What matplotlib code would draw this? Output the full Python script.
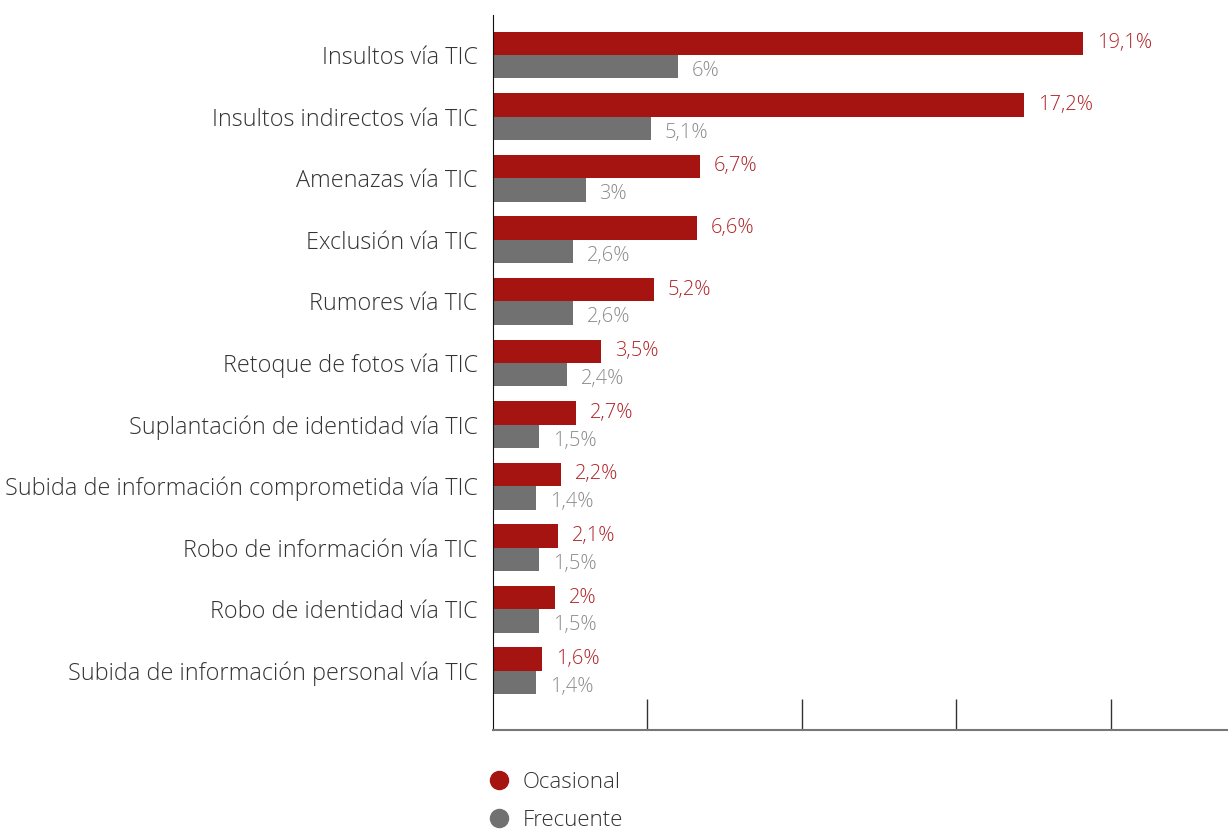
import matplotlib
matplotlib.use("Agg")
import matplotlib.pyplot as plt
from matplotlib.lines import Line2D

plt.rcParams['font.family'] = ['Open Sans', 'DejaVu Sans']
plt.rcParams['font.weight'] = 'light'

# datos
categorias = [
    "Insultos vía TIC",
    "Insultos indirectos vía TIC",
    "Amenazas vía TIC",
    "Exclusión vía TIC",
    "Rumores vía TIC",
    "Retoque de fotos vía TIC",
    "Suplantación de identidad vía TIC",
    "Subida de información comprometida vía TIC",
    "Robo de información vía TIC",
    "Robo de identidad vía TIC",
    "Subida de información personal vía TIC",
]
ocasional = [19.1, 17.2, 6.7, 6.6, 5.2, 3.5, 2.7, 2.2, 2.1, 2.0, 1.6]
frecuente = [6.0, 5.1, 3.0, 2.6, 2.6, 2.4, 1.5, 1.4, 1.5, 1.5, 1.4]
series = ["Ocasional", "Frecuente"]

rojo = "#A51410"
gris = "#717171"


def etiqueta(v):
    s = f"{v:.1f}".replace(".", ",")
    if s.endswith(",0"):
        s = s[:-2]
    return s + "%"


fig = plt.figure(figsize=(12.28, 8.30), dpi=100)
ax = fig.add_axes([493 / 1228, 1 - 730 / 830, 1 - 493 / 1228, (730 - 15) / 830])

alto = 0.38
pos = list(range(len(categorias)))
ax.barh([p - alto / 2 for p in pos], ocasional, height=alto, color=rojo)
ax.barh([p + alto / 2 for p in pos], frecuente, height=alto, color=gris)

for p, vo, vf in zip(pos, ocasional, frecuente):
    ax.text(vo + 0.45, p - alto / 2, etiqueta(vo), va="center", ha="left",
            fontsize=14.5, color="#B0262A")
    ax.text(vf + 0.45, p + alto / 2 + 0.07, etiqueta(vf), va="center", ha="left",
            fontsize=14.5, color="#8C8C8C")

ax.set_yticks(pos)
ax.set_yticklabels(categorias, fontsize=16.8, color="#333333")
ax.set_ylim(10.96, -0.65)
ax.set_xlim(0, 23.8)
ax.set_xticks([5, 10, 15, 20])
ax.set_xticklabels([])
ax.tick_params(axis="y", length=0, pad=11)
ax.tick_params(axis="x", direction="in", length=22, width=1, color="#333333")

for s in ["top", "right"]:
    ax.spines[s].set_visible(False)
ax.spines["left"].set_color("#111111")
ax.spines["bottom"].set_color("#777777")
ax.spines["bottom"].set_linewidth(1.5)

handles = [
    Line2D([], [], marker="o", linestyle="", markersize=13, color=rojo),
    Line2D([], [], marker="o", linestyle="", markersize=13, color=gris),
]
fig.legend(handles, series, loc="upper left",
           bbox_to_anchor=(462 / 1228, 1 - 752 / 830), frameon=False,
           fontsize=16, handletextpad=0.35, labelspacing=0.75,
           handlelength=1.5, labelcolor="#333333")

fig.savefig("out.png", dpi=100)
